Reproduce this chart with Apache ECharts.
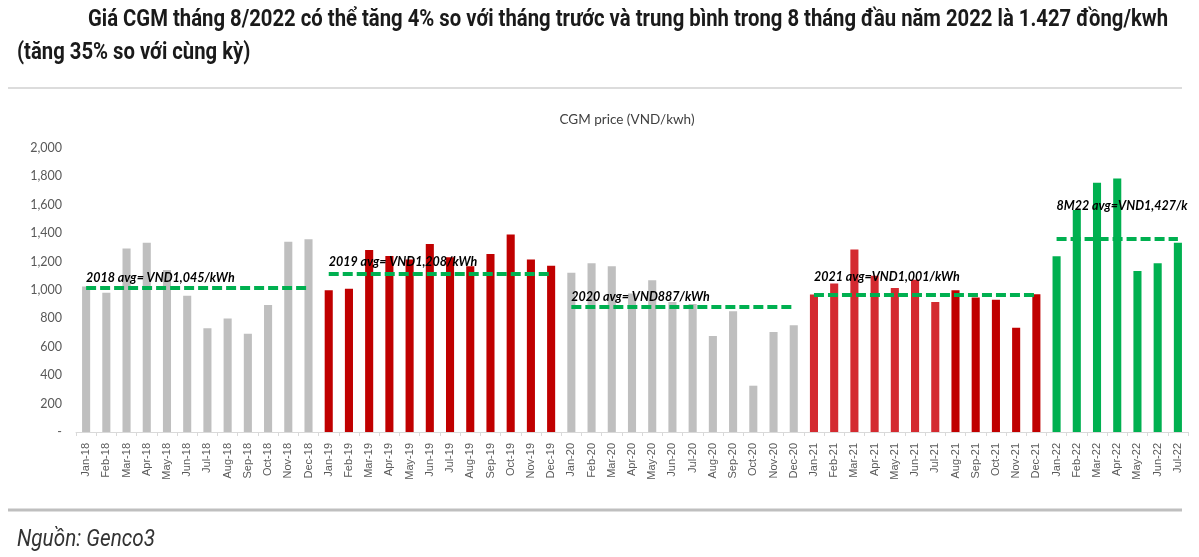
<!DOCTYPE html>
<html>
<head>
<meta charset="utf-8">
<title>CGM price</title>
<script src="https://cdn.jsdelivr.net/npm/echarts@6/dist/echarts.min.js"></script>
<style>
    html, body { margin: 0; padding: 0; background: #fff; }
    #main { width: 1199px; height: 557px; }
</style>
</head>
<body>
<div id="main"></div>
<script>
    // thang (truc hoanh)
    var months = [
        'Jan-18', 'Feb-18', 'Mar-18', 'Apr-18', 'May-18', 'Jun-18', 'Jul-18', 'Aug-18', 'Sep-18', 'Oct-18', 'Nov-18', 'Dec-18',
        'Jan-19', 'Feb-19', 'Mar-19', 'Apr-19', 'May-19', 'Jun-19', 'Jul-19', 'Aug-19', 'Sep-19', 'Oct-19', 'Nov-19', 'Dec-19',
        'Jan-20', 'Feb-20', 'Mar-20', 'Apr-20', 'May-20', 'Jun-20', 'Jul-20', 'Aug-20', 'Sep-20', 'Oct-20', 'Nov-20', 'Dec-20',
        'Jan-21', 'Feb-21', 'Mar-21', 'Apr-21', 'May-21', 'Jun-21', 'Jul-21', 'Aug-21', 'Sep-21', 'Oct-21', 'Nov-21', 'Dec-21',
        'Jan-22', 'Feb-22', 'Mar-22', 'Apr-22', 'May-22', 'Jun-22', 'Jul-22'
    ];

    // gia CGM (VND/kWh)
    var prices2018 = [1025, 980, 1293, 1333, 1140, 960, 730, 800, 692, 894, 1340, 1357];
    var prices2019 = [998, 1009, 1282, 1240, 1215, 1324, 1230, 1167, 1254, 1390, 1214, 1171];
    var prices2020 = [1122, 1188, 1168, 975, 1068, 915, 901, 676, 850, 326, 704, 751];
    var prices2021 = [968, 1045, 1286, 1101, 1014, 1072, 915, 998, 948, 932, 735, 970];
    var prices2022 = [1237, 1563, 1756, 1786, 1134, 1188, 1333];

    // duong trung binh (ve tay trong hinh goc)
    var avgText = ['2018 avg= VND1,045/kWh', '2019 avg= VND1,208/kWh', '2020 avg= VND887/kWh', '2021 avg=VND1,001/kWh', '8M22 avg=VND1,427/k'];
    var avgLevel = [1015, 1115, 885, 965, 1362];
    var avgFrom = ['Jan-18', 'Jan-19', 'Jan-20', 'Jan-21', 'Jan-22'];
    var avgTo = ['Dec-18', 'Dec-19', 'Dec-20', 'Dec-21', 'Jul-22'];

    // khoang cach nhan so voi duong
    var labelLift = [3, 5, 3, 12, 26];

    var titleLine1 = 'Giá CGM tháng 8/2022 có thể tăng 4% so với tháng trước và trung bình trong 8 tháng đầu năm 2022 là 1.427 đồng/kwh';
    var titleLine2 = '(tăng 35% so với cùng kỳ)';
    var sourceText = 'Nguồn: Genco3';

    var prices = [].concat(prices2018, prices2019, prices2020, prices2021, prices2022);

    //mau cot theo nhom
    function barColor(i) {
        if (i < 12) return '#bfbfbf';
        if (i < 24) return '#c00000';
        if (i < 36) return '#bfbfbf';
        if (i < 43) return '#d42a30';
        if (i < 48) return '#c00000';
        return '#00b050';
    }

    var titleFont = "Roboto, 'Liberation Sans', sans-serif";
    var bodyFont = "Lato, 'Open Sans', sans-serif";

    //do chieu rong chu de nen ngang (font hep)
    var measureCtx = document.createElement('canvas').getContext('2d');
    function textWidth(txt, font) {
        measureCtx.font = font;
        return measureCtx.measureText(txt).width;
    }
    var fontTitle = 'bold 24px ' + titleFont;
    var fontSource = 'italic 24px ' + titleFont;
    var squeeze = 1080 / textWidth(titleLine1, fontTitle);
    var squeezeSrc = 138 / textWidth(sourceText, fontSource);

    var markData = [];
    for (var k = 0; k < avgLevel.length; k++) {
        markData.push([
            {
                coord: [avgFrom[k], avgLevel[k]],
                label: {
                    show: true,
                    formatter: avgText[k],
                    position: 'insideStartTop',
                    distance: [0, labelLift[k]]
                }
            },
            { coord: [avgTo[k], avgLevel[k]] }
        ]);
    }

    var myChart = echarts.init(document.getElementById('main'), null, { renderer: 'canvas' });

    var option = {
        backgroundColor: '#fff',
        animation: false,
        title: {
            text: 'CGM price (VND/kwh)',
            left: 622,
            top: 108,
            textAlign: 'center',
            textStyle: { fontFamily: bodyFont, fontSize: 13.5, fontWeight: 'normal', color: '#404040' }
        },
        grid: { left: 76, right: 11, top: 148, bottom: 125, containLabel: false },
        xAxis: {
            type: 'category',
            data: months,
            axisLine: { lineStyle: { color: '#d9d9d9', width: 1 } },
            axisTick: { show: true, length: 4, lineStyle: { color: '#d9d9d9' } },
            axisLabel: {
                interval: 0,
                rotate: 90,
                margin: 11,
                fontFamily: "'Liberation Sans', Arial, sans-serif",
                fontSize: 11,
                color: '#595959'
            }
        },
        yAxis: {
            type: 'value',
            min: 0,
            max: 2000,
            interval: 200,
            axisLine: { show: false },
            axisTick: { show: false },
            splitLine: { show: false },
            axisLabel: {
                margin: 14,
                fontFamily: bodyFont,
                fontSize: 12.5,
                color: '#595959',
                formatter: function (v) {
                    return v === 0 ? '-' : v.toLocaleString('en-US');
                }
            }
        },
        series: [{
            type: 'bar',
            data: prices,
            barCategoryGap: '60%',
            itemStyle: {
                color: function (p) { return barColor(p.dataIndex); }
            },
            markLine: {
                silent: true,
                symbol: 'none',
                lineStyle: { color: '#00b050', width: 4, type: [10, 4], cap: 'butt' },
                label: {
                    fontFamily: bodyFont,
                    fontSize: 12.5,
                    fontWeight: 'bold',
                    fontStyle: 'italic',
                    color: '#000'
                },
                emphasis: { disabled: true },
                data: markData
            }
        }],
        graphic: [
            {
                type: 'text', x: 88, y: 20, scaleX: squeeze,
                style: { text: titleLine1, font: fontTitle, fill: '#1a1a1a', verticalAlign: 'middle' }
            },
            {
                type: 'text', x: 17, y: 53, scaleX: squeeze,
                style: { text: titleLine2, font: fontTitle, fill: '#1a1a1a', verticalAlign: 'middle' }
            },
            {
                type: 'line', shape: { x1: 8, y1: 88, x2: 1182, y2: 88 },
                style: { stroke: '#d0d0d0', lineWidth: 1.5 }
            },
            {
                type: 'line', shape: { x1: 8, y1: 510, x2: 1182, y2: 510 },
                style: { stroke: '#bfbfbf', lineWidth: 3 }
            },
            {
                type: 'text', x: 17, y: 540, scaleX: squeezeSrc,
                style: { text: sourceText, font: fontSource, fill: '#333', verticalAlign: 'middle' }
            }
        ]
    };

    myChart.setOption(option);
</script>
</body>
</html>
